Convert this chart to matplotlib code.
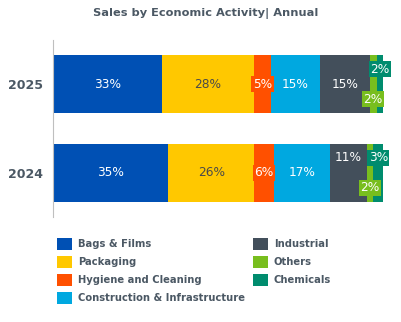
import matplotlib.pyplot as plt
from matplotlib.patches import Rectangle

# data
years = ['2024', '2025']
categories = ['Bags & Films', 'Packaging', 'Hygiene and Cleaning',
              'Construction & Infrastructure', 'Industrial', 'Others', 'Chemicals']
shares_2024 = [35, 26, 6, 17, 11, 2, 3]
shares_2025 = [33, 28, 5, 15, 15, 2, 2]
colors = ['#0050b4', '#ffc800', '#ff5000', '#00a8e0', '#434f5b', '#78be1e', '#008c6e']

txt_color = '#4b5864'

fig = plt.figure(figsize=(4.01, 3.22), dpi=100)
ax = fig.add_axes([0.1314, 0.326, 0.824, 0.55])

series = [shares_2024, shares_2025]
bar_h = 0.66
fs = 8.7
for yi, vals in enumerate(series):
    left = 0
    for ci, v in enumerate(vals):
        ax.barh(yi, v, left=left, height=bar_h, color=colors[ci])
        cx = left + v / 2
        label = f'{v}%'
        cat = categories[ci]
        if cat in ('Others', 'Chemicals'):
            dy = 0.17 if cat == 'Others' else -0.17
            ax.text(cx, yi - dy, label, ha='center', va='center', fontsize=fs,
                    color='white',
                    bbox=dict(boxstyle='square,pad=0.12', fc=colors[ci], ec='none'))
        elif cat == 'Hygiene and Cleaning':
            ax.text(cx, yi, label, ha='center', va='center', fontsize=fs,
                    color='white',
                    bbox=dict(boxstyle='square,pad=0.12', fc=colors[ci], ec='none'))
        elif cat == 'Industrial' and v < 13:
            ax.text(cx, yi + 0.17, label, ha='center', va='center', fontsize=fs,
                    color='white')
        else:
            c = '#4a4a4a' if cat == 'Packaging' else 'white'
            ax.text(cx, yi, label, ha='center', va='center', fontsize=fs, color=c)
        left += v

ax.set_xlim(0, 100)
ax.set_ylim(-0.5, 1.5)
ax.set_yticks(range(len(years)))
ax.set_yticklabels(years, fontsize=9, fontweight='bold', color=txt_color)
ax.tick_params(axis='y', length=0, pad=7)
ax.set_xticks([])
for s in ['top', 'right', 'bottom']:
    ax.spines[s].set_visible(False)
ax.spines['left'].set_color('#bfbfbf')
ax.spines['left'].set_linewidth(0.8)

fig.text(0.514, 0.958, 'Sales by Economic Activity| Annual', ha='center', va='center',
         fontsize=8.2, fontweight='bold', color=txt_color)

# legend, two columns
W, H = 401, 322
for i, (cat, col) in enumerate(zip(categories, colors)):
    colno = 0 if i < 4 else 1
    row = i if i < 4 else i - 4
    x0 = 57 if colno == 0 else 253
    yc = 244 + row * 18
    fig.patches.append(Rectangle((x0 / W, 1 - (yc + 6) / H), 15 / W, 12 / H,
                                 transform=fig.transFigure, fc=col, ec='none'))
    fig.text((x0 + 21) / W, 1 - yc / H, cat, ha='left', va='center', fontsize=7.2,
             fontweight='bold', color=txt_color)

fig.savefig('out.png', dpi=100)
